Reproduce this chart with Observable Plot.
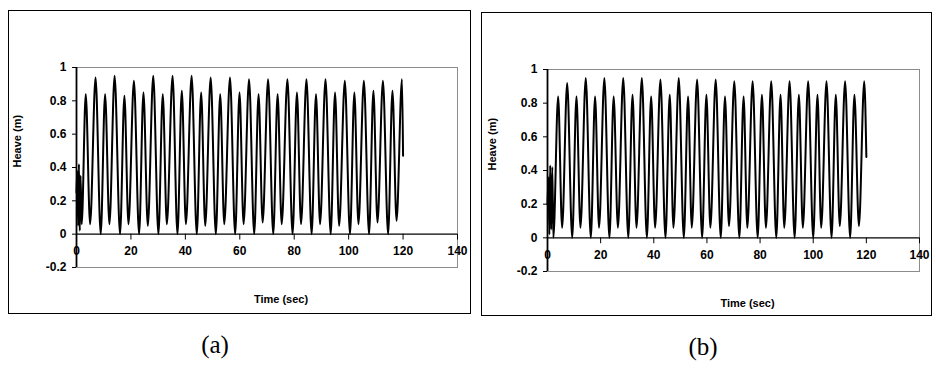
<!DOCTYPE html>
<html><head><meta charset="utf-8">
<script src="https://cdn.jsdelivr.net/npm/d3@7"></script>
<script src="https://cdn.jsdelivr.net/npm/@observablehq/plot@0.6"></script>
<style>
body{margin:0;background:#fff;}
#root{position:relative;width:936px;height:374px;overflow:hidden;background:#fff;}
.box{position:absolute;border:1.5px solid #000;box-sizing:border-box;}
.chart{position:absolute;}
.chart text{font-weight:bold;}
.cap{position:absolute;font-family:"Liberation Serif","Times New Roman",serif;font-size:25px;color:#000;transform:translateX(-50%);}
</style></head>
<body><div id="root">
<div class="box" style="left:8px;top:10px;width:463px;height:304px"></div>
<div class="box" style="left:481px;top:12px;width:451px;height:304px"></div>
<div class="chart" id="pa" style="left:8px;top:10px"></div>
<div class="chart" id="pb" style="left:481px;top:12px"></div>
<div class="cap" style="left:215px;top:331px">(a)</div>
<div class="cap" style="left:703px;top:333px">(b)</div>
</div>
<script>
// Panel (a): heave time series, turning points
const timeA = [0.0,0.3,0.6,0.9,1.2,1.5,1.9,
 3.4,5.0,7.0,8.9,10.5,12.1,14.0,16.0,17.6,19.1,21.1,23.0,24.6,26.2,28.2,30.1,31.7,33.2,35.3,37.1,38.7,40.2,
 42.3,44.2,45.8,47.3,49.3,51.2,52.8,54.3,56.4,58.3,59.9,61.4,63.4,65.3,66.9,68.4,70.4,72.3,73.9,75.4,
 77.5,79.4,81.0,82.5,84.5,86.4,88.0,89.5,91.5,93.4,95.0,96.5,98.6,100.5,102.1,103.6,105.6,107.5,109.1,110.6,
 112.6,114.5,116.1,117.6,119.6,120.0];
const heaveA = [0.25,0.38,0.05,0.42,0.02,0.35,0.06,
 0.84,0.06,0.94,0.00,0.84,0.06,0.95,0.00,0.83,0.06,0.92,0.00,0.85,0.05,0.95,0.00,0.84,0.06,0.95,0.00,0.86,0.06,
 0.95,0.00,0.85,0.05,0.94,0.00,0.84,0.06,0.94,0.00,0.85,0.06,0.93,0.00,0.84,0.07,0.93,0.00,0.84,0.06,
 0.93,0.00,0.85,0.06,0.93,0.00,0.84,0.06,0.93,0.00,0.85,0.05,0.92,0.00,0.85,0.06,0.92,0.00,0.86,0.07,
 0.92,0.00,0.86,0.08,0.93,0.47];
// Panel (b)
const timeB = [0.0,0.4,0.7,1.0,1.4,1.8,2.2,
 4.0,5.5,7.4,9.3,10.9,12.4,14.4,16.3,17.9,19.4,21.4,23.3,24.9,26.5,28.5,30.4,32.0,33.5,35.5,37.4,39.0,40.5,
 42.5,44.4,46.0,47.4,49.4,51.3,52.9,54.3,56.3,58.2,59.8,61.3,63.3,65.2,66.8,68.3,70.3,72.2,73.8,75.2,
 77.2,79.1,80.7,82.2,84.2,86.1,87.7,89.1,91.1,93.0,94.6,96.1,98.1,100.0,101.6,103.0,105.0,106.9,108.5,110.0,
 112.0,113.9,115.5,117.2,119.2,120.0];
const heaveB = [0.20,0.36,0.02,0.43,0.05,0.42,0.00,
 0.84,0.06,0.92,0.00,0.84,0.06,0.95,0.00,0.84,0.06,0.95,0.00,0.84,0.06,0.95,0.00,0.85,0.06,0.95,0.00,0.84,0.06,
 0.94,0.00,0.85,0.06,0.95,0.00,0.84,0.06,0.94,0.00,0.85,0.06,0.94,0.00,0.84,0.07,0.93,0.00,0.84,0.06,
 0.93,0.00,0.85,0.06,0.93,0.00,0.85,0.06,0.93,0.00,0.85,0.06,0.93,0.00,0.85,0.06,0.93,0.00,0.85,0.07,
 0.93,0.00,0.85,0.07,0.93,0.48];
const xTicks = [0,20,40,60,80,100,120,140];
const yTicks = [-0.2,0,0.2,0.4,0.6,0.8,1];
const xLabel = "Time (sec)";
const yLabel = "Heave (m)";

const tickShape = {draw(ctx, l){ ctx.moveTo(0,0); ctx.lineTo(0,-l); }};

function panel(time, heave, o){
  const data = time.map((t,i)=>({t, h: heave[i]}));
  return Plot.plot({
    width:o.w, height:o.h, marginLeft:o.ml, marginRight:o.mr, marginTop:o.mt, marginBottom:o.mb,
    style:{background:"transparent", fontFamily:"Arial, 'Liberation Sans', sans-serif", fontSize:"12px", fontWeight:"bold", color:"#000"},
    x:{domain:[0,140]},
    y:{domain:[-0.2,1]},
    marks:[
      Plot.frame({stroke:"#8c8c8c", strokeWidth:1}),
      Plot.ruleY([0], {stroke:"#000", strokeWidth:1.3}),
      Plot.vector(xTicks, {x:d=>d, y:0, length:5, rotate:180, anchor:"start", shape:tickShape, stroke:"#000", strokeWidth:1}),
      Plot.line(data, {x:"t", y:"h", stroke:"#000", strokeWidth:2, curve:"monotone-x"}),
      Plot.ruleX([0], {stroke:"#000", strokeWidth:1.8}),
      Plot.axisY({ticks:yTicks, tickSize:4, tickPadding:6, label:null, tickFormat:d=>String(d), fontSize:12, fontWeight:"bold"}),
      Plot.axisX({ticks:xTicks, tickSize:0, tickPadding:0, dy:-21, label:null, tickFormat:d=>String(d), fontSize:12, fontWeight:"bold"}),
      Plot.text([xLabel], {text:d=>d, frameAnchor:"bottom", dy:35, dx:14, fontSize:11, fontWeight:"bold"}),
      Plot.text([yLabel], {text:d=>d, frameAnchor:"left", rotate:-90, dx:o.ylx, fontSize:11, fontWeight:"bold"})
    ]
  });
}
document.getElementById("pa").append(panel(timeA, heaveA, {w:463,h:304,ml:68,mr:14,mt:57,mb:47,ylx:-59}));
document.getElementById("pb").append(panel(timeB, heaveB, {w:451,h:304,ml:66,mr:13,mt:57,mb:45,ylx:-55}));
</script>
</body></html>
